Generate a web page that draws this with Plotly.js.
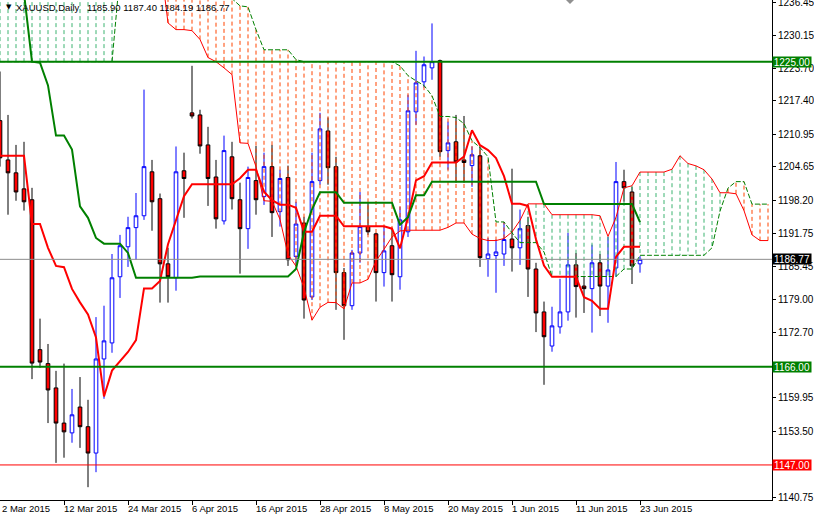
<!DOCTYPE html>
<html><head><meta charset="utf-8">
<script src="https://cdn.plot.ly/plotly-3.0.1.min.js"></script>
<style>html,body{margin:0;padding:0;background:#fff}#chart{width:814px;height:516px}</style>
</head><body><div id="chart"></div>
<script>
// XAUUSD Daily, bars 2 Mar 2015 .. 23 Jun 2015 (index 0..80)
const barOpen = [1213.6,1206.0,1203.5,1200.4,1198.3,1169.3,1166.6,1161.9,1155.1,1153.2,
1158.2,1154.4,1149.3,1167.5,1170.6,1183.4,1189.2,1192.9,1195.2,1203.7,
1198.5,1185.9,1183.2,1203.9,1215.1,1214.7,1208.9,1202.7,1194.2,1206.6,
1198.3,1192.7,1202.0,1198.9,1204.7,1196.0,1202.6,1187.3,1193.8,1179.5,
1202.0,1211.6,1204.7,1184.2,1177.8,1188.0,1193.1,1191.7,1184.2,1189.4,
1183.4,1192.1,1215.3,1221.1,1223.8,1225.2,1207.8,1209.5,1206.0,1204.9,
1206.8,1186.9,1187.5,1187.8,1190.7,1189.0,1193.3,1184.9,1176.6,1170.0,
1173.7,1176.6,1185.7,1181.6,1181.1,1186.1,1181.6,1185.1,1201.8,1199.8,
1185.90];
const barHigh = [1223.1,1214.7,1208.9,1209.5,1200.6,1175.3,1170.4,1165.2,1166.6,1161.7,
1164.0,1159.6,1175.6,1177.8,1187.8,1191.5,1195.0,1199.6,1219.6,1206.0,
1199.5,1189.0,1208.6,1207.4,1224.2,1215.7,1212.4,1206.0,1210.7,1209.5,
1201.6,1204.7,1208.7,1207.4,1208.9,1204.1,1204.9,1197.9,1195.0,1207.4,
1215.1,1214.2,1206.6,1185.1,1188.6,1199.8,1197.7,1191.9,1193.1,1192.9,
1196.9,1218.6,1227.1,1226.0,1232.4,1225.4,1213.4,1214.7,1214.5,1208.6,
1208.6,1190.9,1190.6,1194.0,1204.3,1196.4,1195.0,1186.1,1178.6,1177.6,
1183.0,1191.9,1188.0,1183.6,1189.6,1187.8,1191.1,1205.6,1204.1,1200.8,
1187.40];
const barLow = [1204.7,1195.4,1198.1,1196.2,1163.6,1165.8,1155.1,1147.4,1148.4,1151.3,
1150.3,1142.7,1145.6,1159.8,1168.7,1179.3,1185.3,1186.7,1194.4,1192.3,
1178.4,1178.4,1180.7,1194.8,1214.0,1207.2,1197.1,1192.7,1193.5,1196.4,
1184.0,1188.8,1195.4,1197.3,1191.1,1193.1,1185.5,1185.7,1175.3,1178.9,
1201.2,1201.2,1177.0,1171.2,1177.0,1186.1,1191.5,1178.6,1181.5,1178.6,
1180.9,1191.1,1212.8,1220.0,1221.5,1206.6,1204.1,1201.6,1201.6,1200.8,
1185.3,1183.4,1180.3,1185.5,1184.4,1185.7,1179.5,1172.7,1162.5,1168.9,
1172.4,1174.9,1175.5,1176.4,1172.6,1175.8,1174.5,1183.4,1197.9,1182.0,
1184.19];
const barClose = [1206.4,1203.5,1199.8,1197.9,1166.7,1166.9,1161.5,1155.1,1153.4,1156.7,
1154.4,1149.3,1167.5,1171.0,1183.2,1189.4,1192.9,1195.2,1204.7,1197.9,
1185.9,1183.4,1203.7,1202.4,1214.5,1208.7,1202.4,1194.6,1207.8,1198.5,
1192.7,1202.6,1198.3,1204.7,1195.8,1202.4,1186.7,1193.6,1178.9,1201.8,
1212.0,1204.5,1184.2,1177.8,1188.0,1193.1,1192.1,1184.2,1188.4,1183.8,
1194.4,1215.5,1220.9,1224.4,1225.0,1207.6,1209.3,1205.6,1205.5,1207.0,
1187.1,1187.8,1188.2,1190.6,1189.0,1192.7,1184.9,1176.4,1171.8,1173.9,
1176.6,1185.7,1181.5,1181.1,1186.1,1181.6,1184.7,1201.8,1200.6,1185.5,
1186.77];

// Ichimoku lines
const tenkan = [1206.8,1206.8,1206.8,1206.8,1193.6,1193.6,1189.0,1185.5,1185.25,1181.05,
1178.45,1176.1,1171.65,1160.25,1165.25,1167.1,1168.85,1171.15,1181.15,1181.15,
1182.6,1189.7,1194.15,1199.0,1201.3,1201.3,1201.3,1201.3,1201.3,1201.3,
1202.45,1204.1,1204.1,1199.85,1198.2,1197.35,1197.35,1196.75,1192.1,1192.1,
1195.2,1195.2,1195.2,1193.15,1193.15,1193.15,1193.15,1193.15,1193.15,1192.7,
1188.9,1194.9,1202.05,1202.85,1205.5,1205.5,1205.5,1205.5,1206.65,1211.75,
1208.85,1207.9,1206.35,1202.85,1197.5,1197.5,1197.1,1190.65,1185.55,1183.4,
1183.4,1183.4,1183.4,1179.45,1178.75,1177.2,1177.2,1187.25,1189.2,1189.2,
1189.2];
const kijun = [1244.8,1243.2,1240.8,1238.2,1225.0,1224.8,1220.4,1210.7,1210.7,1208.0,
1197.0,1194.8,1190.9,1189.8,1189.8,1189.8,1188.0,1183.2,1183.2,1183.2,
1183.2,1183.2,1183.2,1183.2,1183.2,1183.45,1183.45,1183.45,1183.45,1183.45,
1183.45,1183.45,1183.45,1183.45,1183.45,1183.45,1183.45,1184.9,1192.0,1196.45,
1199.75,1199.75,1199.75,1197.7,1197.7,1197.7,1197.7,1197.7,1197.7,1197.7,
1193.45,1194.9,1199.15,1199.15,1201.8,1201.8,1201.8,1201.8,1201.8,1201.8,
1201.8,1201.8,1201.8,1201.8,1201.8,1201.8,1201.8,1201.8,1197.45,1197.45,
1197.45,1197.45,1197.45,1197.45,1197.45,1197.45,1197.45,1197.45,1197.45,1197.45,
1193.95];
// Senkou spans, index 0..96 (cloud runs past the last candle)
const spanA = [1246,1246,1246,1246,1246,1246,1246,1246,1246,1246,
1246,1246,1246,1246,1246,1246,1246,1246,1246,1246,
1245,1232.5,1231.2,1231.2,1231.0,1229.3,1225.8,1225.0,1223.8,1222.5,
1209.3,1209.2,1204.7,1198.1,1198.0,1194.5,1187.7,1185.45,1181.3,1175.0,
1177.5,1178.45,1178.4,1177.2,1182.2,1182.2,1182.9,1186.45,1188.7,1191.1,
1192.25,1192.4,1192.4,1192.4,1192.4,1192.4,1192.95,1193.8,1193.8,1191.65,
1190.8,1190.4,1190.4,1190.8,1192.05,1194.3,1197.5,1197.5,1197.5,1195.4,
1195.4,1195.4,1195.4,1195.4,1195.4,1195.2,1191.2,1194.9,1200.6,1201.0,
1203.65,1203.65,1203.65,1203.65,1204.2,1206.8,1205.3,1204.85,1204.1,1202.3,
1199.65,1199.65,1199.45,1196.2,1191.5,1190.4,1190.4];
const spanB = [1225,1225,1225,1225,1225,1225,1225,1225,1225,1225,
1225,1225,1225,1225,1225,1242,1242,1242,1242,1242,
1242,1242,1242,1242,1242,1242,1242,1242,1242,1237.2,
1235.8,1235.6,1231.2,1227.3,1227.3,1227.3,1227.3,1225.4,1225,1225,
1225,1225,1225,1225,1225,1225,1225,1225,1225,1225,
1224.2,1222.3,1221.3,1220.4,1218.4,1214.4,1214.4,1214.2,1213.0,1209.7,
1208.4,1206.6,1194.0,1194.0,1191.9,1190.0,1190.0,1190.0,1188.2,1183.45,
1183.45,1183.45,1183.45,1183.45,1183.45,1183.45,1183.45,1183.45,1184.9,1184.9,
1187.55,1187.55,1187.55,1187.55,1187.55,1187.55,1187.55,1187.55,1187.55,1189.0,
1196.1,1200.55,1201.8,1201.8,1197.45,1197.45,1197.45];

// Axis labels
const dateTickIdx = [0,8,16,24,32,40,48,56,64,72,80];
const dateTickText = ["2 Mar 2015","12 Mar 2015","24 Mar 2015","6 Apr 2015","16 Apr 2015","28 Apr 2015","8 May 2015","20 May 2015","1 Jun 2015","11 Jun 2015","23 Jun 2015"];
const priceTicks = [1236.45,1230.15,1223.70,1217.40,1210.95,1204.65,1198.20,1191.75,1185.45,1179.00,1172.70,1166.25,1159.95,1153.50,1147.05,1140.75];
const priceTickText = ["1236.45","1230.15","1223.70","1217.40","1210.95","1204.65","1198.20","1191.75","1185.45","1179.00","1172.70","","1159.95","1153.50","","1140.75"];
// Horizontal levels
const levelPrices = [1225.00,1166.00,1147.00];
const levelColors = ["#008000","#008000","#ff0000"];
const levelWidths = [2,2,1];
const lastPrice = 1186.77;
const headerSymbol = "XAUUSD,Daily";
const headerValues = "1185.90 1187.40 1184.19 1186.77";

const FONT = "Liberation Sans, Arial, sans-serif";
const FS = 10, FS_SMALL = 9.5;
const W = 772, H = 500;
const idx = barOpen.map((_, i) => i);
const cloudIdx = spanA.map((_, i) => i);

const gx=[],gy=[],ox=[],oy=[];
for (let i=0;i<spanA.length;i++){
  if (spanA[i] >= spanB[i]) { gx.push(i,i,null); gy.push(spanA[i],spanB[i],null); }
  else { ox.push(i,i,null); oy.push(spanA[i],spanB[i],null); }
}

const traces = [
  {type:'candlestick', x:idx, open:barOpen, high:barHigh, low:barLow, close:barClose,
   increasing:{line:{color:'#0000ff',width:1}, fillcolor:'#ffffff'},
   decreasing:{line:{color:'#000000',width:1}, fillcolor:'#ff0000'},
   whiskerwidth:0, hoverinfo:'skip', showlegend:false},
  {type:'scatter', mode:'lines', x:gx, y:gy, line:{color:'#3cb371', width:1, dash:'4px,3px'}, hoverinfo:'skip', showlegend:false},
  {type:'scatter', mode:'lines', x:ox, y:oy, line:{color:'#ff4500', width:1, dash:'4px,3px'}, hoverinfo:'skip', showlegend:false},
  {type:'scatter', mode:'lines', x:cloudIdx, y:spanA, line:{color:'#ff0000', width:1}, hoverinfo:'skip', showlegend:false},
  {type:'scatter', mode:'lines', x:cloudIdx, y:spanB, line:{color:'#008000', width:1, dash:'5px,2px'}, hoverinfo:'skip', showlegend:false},
  {type:'scatter', mode:'lines', x:idx, y:tenkan, line:{color:'#ff0000', width:2}, hoverinfo:'skip', showlegend:false},
  {type:'scatter', mode:'lines', x:idx, y:kijun, line:{color:'#008000', width:2}, hoverinfo:'skip', showlegend:false}
];

const shapes = levelPrices.map((p,k)=>({type:'line', xref:'paper', x0:0, x1:1, yref:'y', y0:p, y1:p,
  line:{color:levelColors[k], width:levelWidths[k]}}));
shapes.push({type:'line', xref:'paper', x0:0, x1:1, yref:'y', y0:lastPrice, y1:lastPrice, line:{color:'#8c8c8c', width:1}});
shapes.push({type:'path', xref:'x', yref:'paper', path:'M 70.75 1 L 71.75 1 L 71.25 0.992 Z', fillcolor:'#909090', line:{width:0}});

const annotations = [];
dateTickIdx.forEach((v,k)=>annotations.push({x:v, xref:'x', y:0, yref:'paper', yanchor:'top', xanchor:'left',
  xshift:(k===0 ? 0 : -2), yshift:-1, text:dateTickText[k], showarrow:false, font:{family:FONT,size:FS_SMALL,color:'#000'}}));
const boxes = [[1225.00,'#008000'],[lastPrice,'#000000'],[1166.00,'#008000'],[1147.00,'#ff0000']];
boxes.forEach(b=>annotations.push({x:1, xref:'paper', xanchor:'left', y:b[0], yref:'y', yanchor:'middle',
  text:b[0].toFixed(2), showarrow:false, bgcolor:b[1], borderpad:0, width:38, height:10, align:'center',
  font:{family:FONT,size:FS,color:'#ffffff'}}));
annotations.push({x:4/W, xref:'paper', y:1-7/H, yref:'paper', xanchor:'left', yanchor:'middle', text:'▼', showarrow:false, font:{family:'DejaVu Sans',size:7,color:'#000'}});
annotations.push({x:14/W, xref:'paper', y:1-7/H, yref:'paper', xanchor:'left', yanchor:'middle', text:headerSymbol, showarrow:false, font:{family:FONT,size:FS_SMALL,color:'#000'}});
annotations.push({x:85/W, xref:'paper', y:1-7/H, yref:'paper', xanchor:'left', yanchor:'middle', text:headerValues, showarrow:false, font:{family:FONT,size:FS_SMALL,color:'#000'}});

const layout = {
  width:814, height:516, margin:{l:0, r:42, t:0, b:16, pad:0},
  paper_bgcolor:'#ffffff', plot_bgcolor:'#ffffff', showlegend:false, hovermode:false,
  boxgap:0.35,
  xaxis:{type:'linear', range:[0, W/8], showgrid:false, zeroline:false, showline:true, linecolor:'#000', linewidth:1,
    ticks:'outside', ticklen:4, tickcolor:'#000', tickvals:dateTickIdx.slice(1), showticklabels:false,
    rangeslider:{visible:false}, fixedrange:true},
  yaxis:{side:'right', range:[1140.22, 1236.93], showgrid:false, zeroline:false, showline:true, linecolor:'#000', linewidth:1,
    ticks:'outside', ticklen:3, tickcolor:'#000', tickvals:priceTicks, ticktext:priceTickText,
    ticklabeloverflow:'allow', tickfont:{family:FONT, size:FS, color:'#000'}, fixedrange:true},
  shapes:shapes, annotations:annotations
};
Plotly.newPlot('chart', traces, layout, {staticPlot:true, displayModeBar:false});
</script></body></html>
